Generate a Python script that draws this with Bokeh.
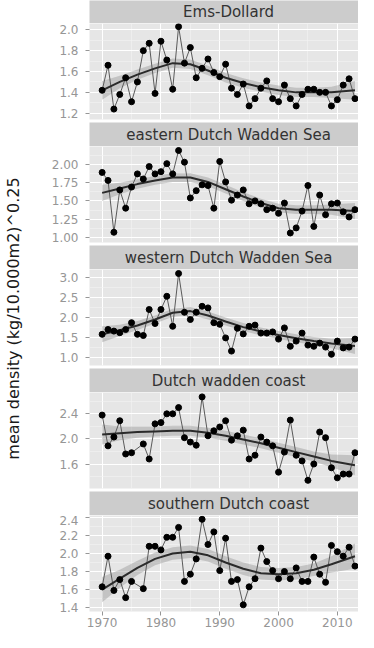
import math
from bokeh.plotting import figure
from bokeh.layouts import column, row
from bokeh.models import SingleIntervalTicker, PrintfTickFormatter, Range1d
from bokeh.core.properties import value
from bokeh.embed import file_html
from bokeh.resources import INLINE

# ---------------- data ----------------
YEARS = list(range(1970, 2014))
YEARS_COAST = [y for y in YEARS if y != 1976]   # no 1976 sample on the coast series

EMS = [1.42, 1.66, 1.24, 1.38, 1.54, 1.31, 1.50, 1.80, 1.87, 1.39,
       1.89, 1.71, 1.43, 2.03, 1.68, 1.83, 1.54, 1.63, 1.72, 1.59,
       1.55, 1.67, 1.44, 1.38, 1.48, 1.27, 1.34, 1.44, 1.51, 1.34,
       1.31, 1.47, 1.34, 1.27, 1.38, 1.43, 1.43, 1.40, 1.40, 1.27,
       1.33, 1.47, 1.53, 1.34]
EDWS = [1.89, 1.78, 1.07, 1.65, 1.40, 1.69, 1.87, 1.80, 1.97, 1.87,
        1.90, 2.01, 1.87, 2.19, 2.03, 1.54, 1.64, 1.72, 1.71, 1.40,
        2.04, 1.76, 1.51, 1.58, 1.65, 1.46, 1.50, 1.46, 1.38, 1.40,
        1.33, 1.47, 1.06, 1.13, 1.36, 1.71, 1.15, 1.58, 1.31, 1.46,
        1.47, 1.35, 1.28, 1.38]
WDWS = [1.58, 1.70, 1.66, 1.62, 1.70, 1.87, 1.58, 1.55, 2.20, 1.85,
        2.20, 2.53, 1.78, 3.10, 2.13, 1.95, 2.13, 2.28, 2.24, 1.87,
        1.83, 1.49, 1.16, 1.73, 1.59, 1.78, 1.81, 1.61, 1.61, 1.64,
        1.46, 1.74, 1.28, 1.41, 1.61, 1.31, 1.28, 1.36, 1.26, 1.08,
        1.41, 1.24, 1.26, 1.46]
DWC = [2.38, 1.89, 2.03, 2.29, 1.76, 1.78, 1.92, 1.68, 2.24,
       2.26, 2.40, 2.40, 2.50, 2.02, 1.95, 1.90, 2.67, 2.05, 2.13,
       2.19, 2.29, 1.98, 2.05, 2.14, 1.68, 1.74, 2.03, 1.95, 1.89,
       1.47, 1.79, 2.30, 1.74, 1.65, 1.34, 1.60, 2.11, 2.02, 1.54,
       1.38, 1.44, 1.44, 1.78]
SDC = [1.63, 1.97, 1.59, 1.71, 1.51, 1.69, 1.61, 2.08, 2.08,
       2.04, 2.18, 2.18, 2.29, 1.69, 1.77, 1.94, 2.38, 2.10, 2.24,
       1.81, 2.17, 1.69, 1.71, 1.43, 1.63, 1.72, 2.06, 1.91, 1.81,
       1.72, 1.80, 1.72, 1.84, 1.69, 1.69, 1.96, 1.77, 1.68, 2.09,
       2.02, 1.97, 2.07, 1.86]

# loess smooth and half width of its confidence band
S_YEARS = [1970, 1973, 1976, 1979, 1982, 1985, 1988, 1991, 1994, 1997, 2000, 2003, 2006, 2009, 2013]
EMS_S = [1.42, 1.50, 1.57, 1.63, 1.68, 1.67, 1.61, 1.54, 1.49, 1.45, 1.42, 1.40, 1.40, 1.40, 1.42]
EDWS_S = [1.61, 1.67, 1.73, 1.78, 1.82, 1.82, 1.76, 1.66, 1.56, 1.47, 1.40, 1.38, 1.38, 1.38, 1.36]
WDWS_S = [1.58, 1.68, 1.80, 1.95, 2.12, 2.16, 2.05, 1.90, 1.76, 1.65, 1.56, 1.48, 1.41, 1.35, 1.29]
DWC_S = [2.07, 2.09, 2.11, 2.12, 2.13, 2.13, 2.10, 2.05, 1.99, 1.93, 1.86, 1.79, 1.72, 1.65, 1.58]
SDC_S = [1.60, 1.72, 1.84, 1.94, 2.00, 2.02, 1.98, 1.90, 1.83, 1.78, 1.77, 1.78, 1.82, 1.88, 1.97]
EMS_H = [0.09, 0.06, 0.05, 0.045, 0.045, 0.045, 0.045, 0.045, 0.045, 0.045, 0.045, 0.045, 0.045, 0.055, 0.09]
EDWS_H = [0.11, 0.08, 0.065, 0.06, 0.06, 0.06, 0.06, 0.06, 0.06, 0.06, 0.06, 0.06, 0.06, 0.07, 0.11]
WDWS_H = [0.20, 0.14, 0.11, 0.10, 0.10, 0.10, 0.10, 0.10, 0.10, 0.10, 0.10, 0.10, 0.10, 0.12, 0.20]
DWC_H = [0.16, 0.11, 0.09, 0.08, 0.08, 0.08, 0.08, 0.08, 0.08, 0.08, 0.08, 0.08, 0.08, 0.10, 0.16]
SDC_H = [0.14, 0.10, 0.08, 0.07, 0.07, 0.07, 0.07, 0.07, 0.07, 0.07, 0.07, 0.07, 0.07, 0.09, 0.14]

NAMES = ["Ems-Dollard", "eastern Dutch Wadden Sea", "western Dutch Wadden Sea",
         "Dutch wadden coast", "southern Dutch coast"]
Y_RANGES = [(1.14, 2.06), (0.93, 2.245), (0.80, 3.20), (1.21, 2.74), (1.356, 2.422)]
Y_STEPS = [0.2, 0.25, 0.5, 0.4, 0.2]
Y_FORMATS = ["%.1f", "%.2f", "%.1f", "%.1f", "%.1f"]
X_TICK_STEP = 10
YLABEL = "mean density (kg/10.000m2)^0.25"

SERIES = [(YEARS, EMS, EMS_S, EMS_H), (YEARS, EDWS, EDWS_S, EDWS_H),
          (YEARS, WDWS, WDWS_S, WDWS_H), (YEARS_COAST, DWC, DWC_S, DWC_H),
          (YEARS_COAST, SDC, SDC_S, SDC_H)]

# ---------------- style / layout ----------------
PANEL_BG = "#E6E6E6"
STRIP_BG = "#CCCCCC"
TICK_COL = "#969696"
FONT = "DejaVu Sans"

LABEL_W = 26
LEFT = 89 - LABEL_W
FRAME_W = 269
STRIP_HS = [23, 24, 24, 24, 24]
FRAME_H = 96
GAP = 3
AXIS_H = 21
TOTAL_H = sum(STRIP_HS) + 4 * (FRAME_H + GAP) + FRAME_H + AXIS_H

X_FULL = (1967.85, 2015.15)
xr = Range1d(1967.85, 2013.6)


def strip_fig(name, h):
    s = figure(width=LEFT + FRAME_W, height=h, x_range=xr, y_range=Range1d(0, 1),
               x_axis_location=None, y_axis_location=None, output_backend="svg",
               toolbar_location=None, min_border_left=LEFT, min_border_right=0,
               min_border_top=0, min_border_bottom=0)
    s.background_fill_color = STRIP_BG
    s.border_fill_color = "white"
    s.outline_line_color = None
    s.grid.visible = False
    s.text(x=[(X_FULL[0] + X_FULL[1]) / 2], y=[0.5], text=[name],
           text_font=value(FONT), text_font_size="15px", text_align="center",
           text_baseline="middle", text_color="#333333")
    return s


def panel_fig(i, last):
    yrs, vals, sm, hw = SERIES[i]
    bottom = AXIS_H if last else GAP
    p = figure(width=LEFT + FRAME_W, height=FRAME_H + bottom, x_range=xr,
               y_range=Range1d(*Y_RANGES[i]),
               x_axis_location="below" if last else None, y_axis_location="left",
               output_backend="svg", toolbar_location=None,
               min_border_left=LEFT, min_border_right=0, min_border_top=0,
               min_border_bottom=bottom)
    p.background_fill_color = PANEL_BG
    p.border_fill_color = "white"
    p.outline_line_color = None

    yt = SingleIntervalTicker(interval=Y_STEPS[i], num_minor_ticks=2)
    xt = SingleIntervalTicker(interval=X_TICK_STEP, num_minor_ticks=2)
    p.ygrid.ticker = yt
    p.xgrid.ticker = xt
    for g in (p.xgrid, p.ygrid):
        g.grid_line_color = "white"
        g.grid_line_width = 1
        g.minor_grid_line_color = "#F3F3F3"
        g.minor_grid_line_width = 0.6

    axes = list(p.yaxis) + (list(p.xaxis) if last else [])
    for ax in axes:
        ax.axis_line_color = None
        ax.major_tick_line_color = TICK_COL
        ax.major_tick_out = 4
        ax.major_tick_in = 0
        ax.minor_tick_line_color = None
        ax.major_label_text_font = FONT
        ax.major_label_text_font_size = "12px"
        ax.major_label_text_color = TICK_COL
    p.yaxis.ticker = yt
    p.yaxis.formatter = PrintfTickFormatter(format=Y_FORMATS[i])
    p.yaxis.major_label_standoff = 7
    if last:
        p.xaxis.ticker = xt
        p.xaxis.major_label_standoff = 2

    lower = [m - h for m, h in zip(sm, hw)]
    upper = [m + h for m, h in zip(sm, hw)]
    p.varea(x=S_YEARS, y1=lower, y2=upper, fill_color="#9A9A9A", fill_alpha=0.45)
    p.line(yrs, vals, line_color="#5A5A5A", line_width=1)
    p.line(S_YEARS, sm, line_color="#2B2B2B", line_width=2)
    p.scatter(yrs, vals, size=6, color="black")
    return p


children = []
for i, name in enumerate(NAMES):
    children.append(strip_fig(name, STRIP_HS[i]))
    children.append(panel_fig(i, i == len(NAMES) - 1))

lab = figure(width=LABEL_W, height=TOTAL_H, x_range=Range1d(0, LABEL_W),
             y_range=Range1d(0, TOTAL_H), x_axis_location=None, y_axis_location=None,
             output_backend="svg", toolbar_location=None, min_border_left=0,
             min_border_right=0, min_border_top=0, min_border_bottom=0)
lab.outline_line_color = None
lab.grid.visible = False
lab.background_fill_color = "white"
lab.text(x=[13], y=[TOTAL_H - 318], text=[YLABEL], angle=math.pi / 2,
         text_font=value(FONT), text_font_size="16px", text_align="center",
         text_baseline="middle", text_color="#1A1A1A")

layout = row(lab, column(children))
open("out.html", "w").write(file_html(layout, INLINE))
